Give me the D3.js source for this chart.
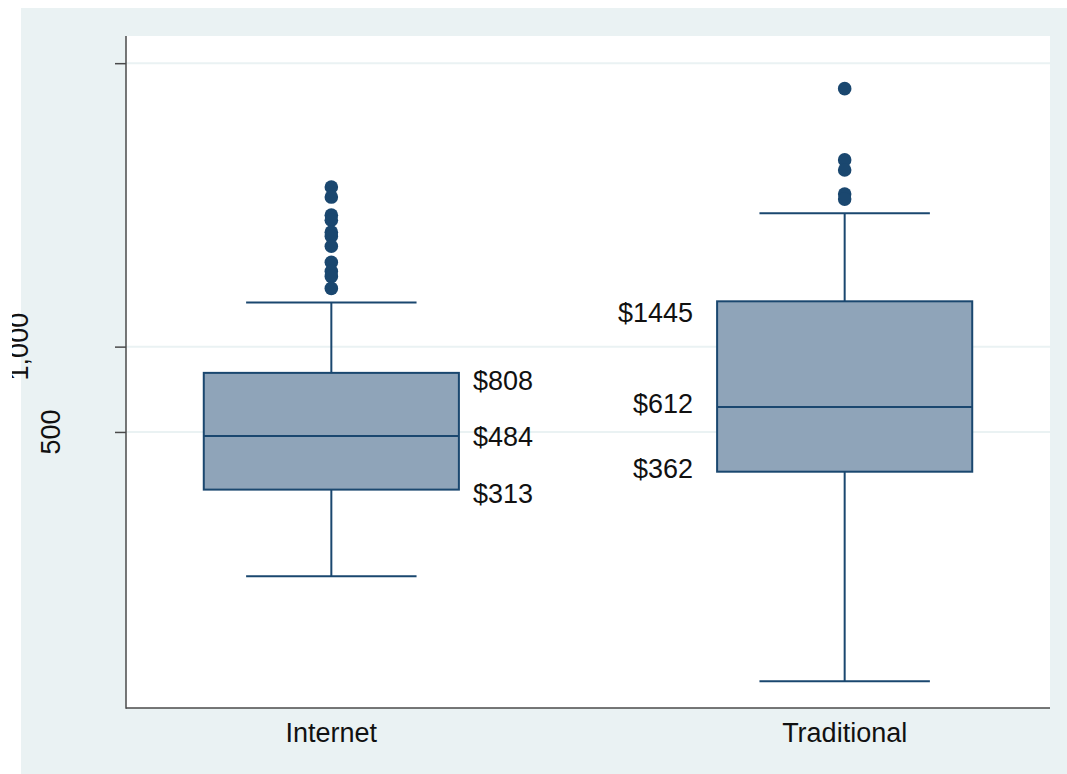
<!DOCTYPE html>
<html>
<head>
<meta charset="utf-8">
<script src="https://cdn.jsdelivr.net/npm/d3@7"></script>
<style>
  html, body { margin: 0; padding: 0; background: #ffffff; }
  svg { display: block; font-family: "Liberation Sans", Arial, sans-serif; }
</style>
</head>
<body>
<svg id="chart" width="1067" height="774"></svg>
<script>
// ---- data ----
const categories = ["Internet", "Traditional"];
const q1Values = [313, 362];
const medianValues = [484, 612];
const q3Values = [808, 1445];
const whiskerLow = [155, 66];
const whiskerHigh = [1431, 2957];
const outliersInternet = [3656, 3370, 2910, 2794, 2534, 2452, 2260, 1984, 1843, 1769, 1605];
const outliersTraditional = [8130, 4557, 4200, 3454, 3315];
const yTickValues = [500, 1000, 10000];
const yTickLabels = ["500", "1,000", ""];

// ---- layout ----
const W = 1067, H = 774;
const plot = { left: 126, right: 1050, top: 36, bottom: 708 };
const navy = "#1a476f";
const boxFill = "#8fa4b9";
const bg = "#eaf2f3";
const axisColor = "#4a4a4a";
// small vertical nudges (px) of the value labels: [q3, median, q1]
const labelNudge = [[8, 1, 4], [11, -4, -3]];

const svg = d3.select("#chart");
svg.append("rect").attr("x", 0).attr("y", 0).attr("width", W).attr("height", H).attr("fill", "#ffffff");
svg.append("rect").attr("x", 21).attr("y", 8).attr("width", W - 21).attr("height", H - 8).attr("fill", bg);
svg.append("rect").attr("x", plot.left).attr("y", plot.top)
   .attr("width", plot.right - plot.left).attr("height", plot.bottom - plot.top).attr("fill", "#ffffff");

const x = d3.scaleLinear().domain([0.6, 2.4]).range([plot.left, plot.right]);
const y = d3.scaleLog().domain([53.1, 12470]).range([plot.bottom, plot.top]);

// grid lines
svg.append("g").selectAll("line").data(yTickValues).join("line")
  .attr("x1", plot.left).attr("x2", plot.right)
  .attr("y1", d => y(d)).attr("y2", d => y(d))
  .attr("stroke", bg).attr("stroke-width", 2);

// y axis
const yAxis = d3.axisLeft(y).tickValues(yTickValues).tickFormat("").tickSize(11).tickSizeOuter(0);
const yg = svg.append("g").attr("transform", `translate(${plot.left},0)`).call(yAxis);
yg.select(".domain").remove();
yg.selectAll(".tick line").attr("stroke", axisColor).attr("stroke-width", 1.5);
svg.append("line").attr("x1", plot.left).attr("x2", plot.left)
  .attr("y1", plot.top).attr("y2", plot.bottom + 0.75)
  .attr("stroke", axisColor).attr("stroke-width", 1.5);

// y labels (staggered, rotated)
svg.append("defs").append("clipPath").attr("id", "lblclip")
  .append("rect").attr("x", 12).attr("y", 0).attr("width", W).attr("height", H);
const labelX = [60, 28, 60];
const ylab = svg.append("g").attr("clip-path", "url(#lblclip)");
yTickValues.forEach((v, i) => {
  if (!yTickLabels[i]) return;
  ylab.append("text")
    .attr("transform", `translate(${labelX[i]},${y(v)}) rotate(-90)`)
    .attr("text-anchor", "middle")
    .attr("font-size", 27)
    .attr("fill", "#111")
    .text(yTickLabels[i]);
});

// x axis
svg.append("line").attr("x1", plot.left).attr("x2", plot.right)
  .attr("y1", plot.bottom).attr("y2", plot.bottom)
  .attr("stroke", axisColor).attr("stroke-width", 1.5);
categories.forEach((c, i) => {
  svg.append("text").attr("x", x(i + 1)).attr("y", 742)
    .attr("text-anchor", "middle").attr("font-size", 27).attr("fill", "#111").text(c);
});

// boxes
const boxHalf = 0.2485;
const capHalf = 0.166;
categories.forEach((c, i) => {
  const cx = x(i + 1);
  const g = svg.append("g");
  g.append("line").attr("x1", cx).attr("x2", cx).attr("y1", y(q3Values[i])).attr("y2", y(whiskerHigh[i]))
    .attr("stroke", navy).attr("stroke-width", 2);
  g.append("line").attr("x1", cx).attr("x2", cx).attr("y1", y(q1Values[i])).attr("y2", y(whiskerLow[i]))
    .attr("stroke", navy).attr("stroke-width", 2);
  [whiskerHigh[i], whiskerLow[i]].forEach(v => {
    g.append("line").attr("x1", x(i + 1 - capHalf)).attr("x2", x(i + 1 + capHalf))
      .attr("y1", y(v)).attr("y2", y(v)).attr("stroke", navy).attr("stroke-width", 2);
  });
  g.append("rect").attr("x", x(i + 1 - boxHalf)).attr("y", y(q3Values[i]))
    .attr("width", x(i + 1 + boxHalf) - x(i + 1 - boxHalf))
    .attr("height", y(q1Values[i]) - y(q3Values[i]))
    .attr("fill", boxFill).attr("stroke", navy).attr("stroke-width", 2);
  g.append("line").attr("x1", x(i + 1 - boxHalf)).attr("x2", x(i + 1 + boxHalf))
    .attr("y1", y(medianValues[i])).attr("y2", y(medianValues[i]))
    .attr("stroke", navy).attr("stroke-width", 2);
});

// outliers
[outliersInternet, outliersTraditional].forEach((arr, i) => {
  svg.append("g").selectAll("circle").data(arr).join("circle")
    .attr("cx", x(i + 1)).attr("cy", d => y(d)).attr("r", 6.8).attr("fill", navy);
});

// value labels
const valueLabels = categories.map((c, i) => [q3Values[i], medianValues[i], q1Values[i]]);
valueLabels[0].forEach((v, j) => {
  svg.append("text").attr("x", x(1 + boxHalf) + 14).attr("y", y(v) + labelNudge[0][j]).attr("dy", "0.35em")
    .attr("font-size", 27).attr("fill", "#111").text("$" + v);
});
valueLabels[1].forEach((v, j) => {
  svg.append("text").attr("x", x(2 - boxHalf) - 24).attr("y", y(v) + labelNudge[1][j]).attr("dy", "0.35em")
    .attr("text-anchor", "end").attr("font-size", 27).attr("fill", "#111").text("$" + v);
});
</script>
</body>
</html>
